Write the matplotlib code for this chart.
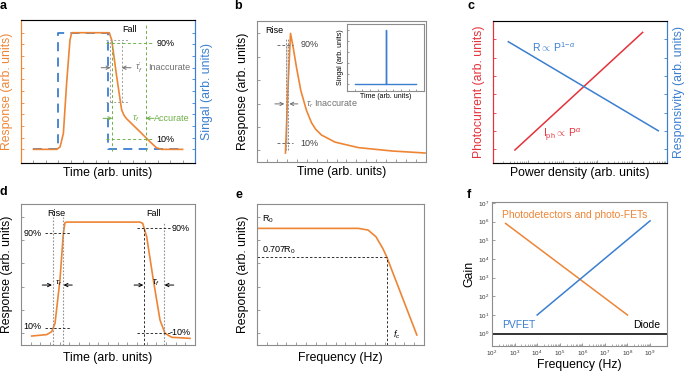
import numpy as np
import matplotlib
matplotlib.use("Agg")
import matplotlib.pyplot as plt
from matplotlib.ticker import NullFormatter

plt.rcParams['font.family'] = ['Liberation Sans', 'DejaVu Sans']
plt.rcParams['mathtext.fontset'] = 'custom'
plt.rcParams['mathtext.rm'] = 'Liberation Sans'
plt.rcParams['mathtext.it'] = 'Liberation Sans:italic'

ORANGE = '#EE8535'
BLUE = '#3B7FD0'
RED = '#E5323C'
GREEN = '#6FB04A'
SPINE = '#8C8C8C'

# ---- panel a: square pulse vs. slow response
a_sig_t = [1, 3, 3, 7, 7, 13]
a_sig_v = [0, 0, 1, 1, 0, 0]
a_t = [1, 2.87, 3.14, 3.41, 3.67, 3.94, 4.08, 7.1, 7.3, 7.7, 8.1, 8.3, 8.5, 9.0, 9.57, 10.38, 10.9, 11.3, 13]
a_v = [0, 0, 0.02, 0.137, 0.566, 0.937, 1.0, 1.0, 0.937, 0.623, 0.337, 0.29, 0.262, 0.21, 0.151, 0.065, 0.014, 0.0, 0.0]

# ---- panel b: pulse response
b_t = [2.86, 3.1, 3.37, 3.6, 3.97, 4.41, 4.98, 5.49, 5.9, 6.5, 7.85, 10.2, 13.6, 16.9]
b_v = [-0.023, 0.5, 1.0, 0.9, 0.71, 0.51, 0.34, 0.235, 0.18, 0.13, 0.07, 0.023, -0.006, -0.023]
b_in_t = [1, 5.0, 5.0, 5.08, 5.08, 9]
b_in_v = [0, 0, 1, 1, 0, 0]

# ---- panel c: power law
c_ph_p = [10**0.63, 10**4.30]
c_ph_v = [-0.04, 6.38]
c_r_p = [10**0.44, 10**4.75]
c_r_v = [5.87, 1.01]

# ---- panel d: rise/fall
d_t = [1.10, 2.66, 3.17, 3.52, 4.03, 4.38, 4.55, 4.72, 12.31, 12.59, 13.0, 13.69, 14.38, 14.9, 15.6, 17.48]
d_v = [-0.023, -0.011, 0.014, 0.086, 0.457, 0.857, 0.949, 0.954, 0.954, 0.943, 0.829, 0.457, 0.114, 0.0, -0.034, -0.043]

# ---- panel e: frequency response
e_f = [0, 10.3, 11.3, 12.1, 12.8, 13.2, 16.27]
e_v = [0.9, 0.9, 0.886, 0.829, 0.729, 0.657, -0.014]
e_cut_v = 0.657
e_cut_f = 13.2

# ---- panel f: gain vs frequency
f_pd_f = [4e2, 1e8]
f_pd_g = [8e5, 1e1]
f_pv_f = [1e4, 1e9]
f_pv_g = [1e1, 1.1e6]
f_diode_g = 1.0
f_xdec = list(range(2, 10))
f_ydec = list(range(0, 8))

fig = plt.figure(figsize=(6.85, 3.72), dpi=100)


def rect(l, t, r, b):
    return [l / 685, 1 - b / 372, (r - l) / 685, (b - t) / 372]


def style(ax, left=SPINE, right=SPINE):
    for s in ['top', 'bottom']:
        ax.spines[s].set_color(SPINE)
    ax.spines['left'].set_color(left)
    ax.spines['right'].set_color(right)
    for s in ax.spines.values():
        s.set_linewidth(0.8)
    ax.tick_params(which='both', direction='in', length=2.5, width=0.6, colors=SPINE,
                   labelleft=False, labelbottom=False)
    ax.tick_params(axis='y', colors=left)


def arrow(ax, x0, x1, y, color):
    # small horizontal arrow pointing from x0 to x1
    ax.annotate('', xy=(x1, y), xytext=(x0, y),
                arrowprops=dict(arrowstyle='->', lw=0.7, color=color,
                                mutation_scale=6, shrinkA=0, shrinkB=0))


def minor_log(lo, hi):
    return [m * 10**d for d in range(lo, hi) for m in range(2, 10)]


LFS = 8.8

# ================= a
ax = fig.add_axes(rect(21, 20, 195, 163))
ax.plot(a_sig_t, a_sig_v, color=BLUE, lw=1.3, ls=(0, (5, 3.5)))
ax.plot(a_t, a_v, color=ORANGE, lw=1.2)
ax.set_xlim(0, 14)
ax.set_ylim(-0.117, 1.109)
ax.set_xticks(range(1, 14))
ax.set_yticks(np.arange(0, 1.01, 0.1))
style(ax, left=ORANGE, right=BLUE)
ax.set_xlabel('Time (arb. units)', fontsize=LFS, labelpad=3)
ax.set_ylabel('Response (arb. units)', fontsize=LFS, color=ORANGE, labelpad=6)
axr = ax.twinx()
axr.set_ylim(-0.117, 1.109)
axr.set_yticks(np.arange(0, 1.01, 0.1))
axr.tick_params(direction='in', length=2.5, width=0.6, colors=BLUE, labelright=False)
axr.spines['right'].set_color(BLUE)
axr.spines['left'].set_color(ORANGE)
axr.set_ylabel('Singal (arb. units)', fontsize=LFS, color=BLUE, labelpad=4)
# gray (inaccurate) guides
ax.hlines([0.94, 0.41], 6.85, 8.6, color='#A0A0A0', ls=(0, (2, 2)), lw=0.7)
ax.vlines([7.2, 8.1], 0.41, 0.94, color='#A0A0A0', ls=(0, (2, 2)), lw=0.7)
# green (accurate) guides
ax.hlines([0.914, 0.086], 6.85, 10.65, color=GREEN, ls=(0, (3, 2.5)), lw=0.7)
ax.vlines(7.35, -0.01, 0.93, color=GREEN, ls=(0, (3, 2.5)), lw=0.7)
ax.vlines(10.03, -0.01, 1.07, color=GREEN, ls=(0, (3, 2.5)), lw=0.7)
ax.text(8.75, 1.03, 'Fall', fontsize=6.5, ha='center', va='center')
ax.text(10.9, 0.91, '90%', fontsize=6.5, va='center')
ax.text(10.85, 0.085, '10%', fontsize=6.5, va='center')
arrow(ax, 6.45, 7.2, 0.70, '#707070')
arrow(ax, 8.85, 8.1, 0.70, '#707070')
ax.text(9.15, 0.70, r'$\tau_f^{\prime}$', fontsize=6.5, color='#707070', va='center')
ax.text(10.2, 0.70, 'Inaccurate', fontsize=6.5, color='#707070', va='center')
arrow(ax, 6.6, 7.35, 0.266, GREEN)
arrow(ax, 10.7, 10.03, 0.266, GREEN)
ax.text(8.9, 0.266, r'$\tau_f$', fontsize=6.5, color=GREEN, va='center')
ax.text(10.72, 0.266, 'Accurate', fontsize=6.5, color=GREEN, va='center')

# ================= b
ax = fig.add_axes(rect(257, 21, 426, 162))
ax.plot(b_t, b_v, color=ORANGE, lw=1.2)
ax.set_xlim(0, 17)
ax.set_ylim(-0.1, 1.106)
ax.set_xticks(range(1, 17))
ax.set_yticks(np.arange(0, 1.01, 0.2))
style(ax)
ax.set_xlabel('Time (arb. units)', fontsize=LFS, labelpad=3)
ax.set_ylabel('Response (arb. units)', fontsize=LFS, labelpad=6)
ax.fill_betweenx([0.061, 0.901], 2.9, 3.13, color='#D9C9BC', alpha=0.6, lw=0)
ax.vlines([2.9, 3.13], 0.0, 0.96, color='#909090', ls=(0, (2, 1.5)), lw=0.7)
ax.hlines([0.901, 0.061], 1.99, 3.67, color='#707070', ls=(0, (3, 2)), lw=0.7)
ax.text(4.4, 0.901, '90%', fontsize=6.5, va='center', color='#404040')
ax.text(4.4, 0.061, '10%', fontsize=6.5, va='center', color='#404040')
ax.text(0.8, 1.025, 'Rise', fontsize=6.5, va='center')
arrow(ax, 1.8, 2.75, 0.397, '#707070')
arrow(ax, 4.1, 3.25, 0.397, '#707070')
ax.text(4.95, 0.397, r'$\tau_r$ Inaccurate', fontsize=6.5, color='#707070', va='center')

axi = fig.add_axes(rect(347, 24, 424, 91))
axi.plot(b_in_t, b_in_v, color=BLUE, lw=1.0)
axi.set_xlim(0, 10)
axi.set_ylim(-0.12, 1.11)
axi.set_xticks(range(1, 10))
axi.set_yticks(np.arange(0, 1.01, 0.2))
style(axi)
axi.tick_params(length=1.5)
axi.set_xlabel('Time (arb. units)', fontsize=5, labelpad=1.5)
axi.set_ylabel('Singal (arb. units)', fontsize=5, labelpad=2)

# ================= c
ax = fig.add_axes(rect(493, 21, 667, 163))
ax.plot(c_ph_p, c_ph_v, color=RED, lw=1.1)
ax.plot(c_r_p, c_r_v, color=BLUE, lw=1.1)
ax.set_xscale('log')
ax.set_xlim(1, 1e5)
ax.set_ylim(-0.75, 7.0)
ax.set_xticks([10**d for d in range(0, 6)])
ax.set_xticks(minor_log(0, 5), minor=True)
ax.xaxis.set_minor_formatter(NullFormatter())
ax.set_yticks(range(0, 7))
style(ax, left=RED, right=BLUE)
ax.tick_params(axis='x', which='minor', direction='in', length=1.5, width=0.5, colors=SPINE)
ax.set_xlabel('Power density (arb. units)', fontsize=LFS, labelpad=3)
ax.set_ylabel('Photocurrent (arb. units)', fontsize=LFS, color=RED, labelpad=6)
axr = ax.twinx()
axr.set_ylim(-0.75, 7.0)
axr.set_yticks(range(0, 7))
axr.tick_params(direction='in', length=2.5, width=0.6, colors=BLUE, labelright=False)
axr.spines['right'].set_color(BLUE)
axr.spines['left'].set_color(RED)
axr.set_ylabel('Responsivity (arb. units)', fontsize=LFS, color=BLUE, labelpad=4)
ax.text(10**1.13, 5.55, r'R$\propto$ P$^{1\mathrm{-}\alpha}$', fontsize=7.5, color=BLUE, va='center')
ax.text(10**1.45, 0.78, r'I$_{\mathrm{ph}}$$\propto$ P$^{\alpha}$', fontsize=7.5, color=RED, va='center')

# ================= d
ax = fig.add_axes(rect(21, 204, 195, 345))
ax.plot(d_t, d_v, color=ORANGE, lw=1.2)
ax.set_xlim(0, 18)
ax.set_ylim(-0.1, 1.109)
ax.set_xticks(range(1, 18))
ax.set_yticks(np.arange(0, 1.01, 0.2))
style(ax)
ax.set_xlabel('Time (arb. units)', fontsize=LFS, labelpad=5)
ax.set_ylabel('Response (arb. units)', fontsize=LFS, labelpad=6)
dot = dict(color='#909090', ls=(0, (1.5, 1.5)), lw=0.8)
dash = dict(color='#303030', ls=(0, (2.5, 2)), lw=0.7)
ax.vlines([3.28, 4.31], -0.1, 1.0, **dot)
ax.vlines(14.79, -0.1, 0.95, **dot)
ax.vlines(12.72, -0.1, 0.9, **dash)
ax.hlines([0.857, 0.043], 2.48, 5.07, **dash)
ax.hlines([0.9, 0.0], 11.97, 15.4, **dash)
ax.text(0.25, 0.857, '90%', fontsize=6.5, va='center')
ax.text(0.25, 0.055, '10%', fontsize=6.5, va='center')
ax.text(15.6, 0.9, '90%', fontsize=6.5, va='center')
ax.text(15.4, 0.005, '-10%', fontsize=6.5, va='center')
ax.text(3.62, 1.03, 'Rise', fontsize=6.5, ha='center', va='center')
ax.text(13.69, 1.03, 'Fall', fontsize=6.5, ha='center', va='center')
arrow(ax, 2.2, 3.2, 0.414, 'k')
arrow(ax, 5.3, 4.4, 0.414, 'k')
ax.text(3.55, 0.43, r'$\tau_r$', fontsize=6, va='center')
arrow(ax, 11.7, 12.65, 0.414, 'k')
arrow(ax, 15.8, 14.85, 0.414, 'k')
ax.text(13.5, 0.43, r'$\tau_f$', fontsize=6.5, va='center')

# ================= e
ax = fig.add_axes(rect(257, 204, 424, 345))
ax.plot(e_f, e_v, color=ORANGE, lw=1.2)
ax.set_xlim(0, 17)
ax.set_ylim(-0.1, 1.109)
ax.set_xticks(range(1, 17))
ax.set_yticks(np.arange(0, 1.01, 0.2))
style(ax)
ax.set_xlabel('Frequency (Hz)', fontsize=LFS, labelpad=5)
ax.set_ylabel('Response (arb. units)', fontsize=LFS, labelpad=6)
ax.hlines(e_cut_v, 0, e_cut_f, **dash)
ax.vlines(e_cut_f, -0.1, e_cut_v, **dash)
ax.text(0.55, 0.98, r'R$_0$', fontsize=6.5, va='center')
ax.text(0.55, 0.71, r'0.707R$_0$', fontsize=6.5, va='center')
ax.text(13.8, -0.01, r'$f_c$', fontsize=6.5, va='center')

# ================= f
ax = fig.add_axes(rect(492, 202, 667, 346))
ax.plot(f_pd_f, f_pd_g, color=ORANGE, lw=1.1)
ax.plot(f_pv_f, f_pv_g, color=BLUE, lw=1.1)
ax.axhline(f_diode_g, color='#333333', lw=1.4)
ax.set_xscale('log')
ax.set_yscale('log')
ax.set_xlim(1e2, 10**9.75)
ax.set_ylim(10**-0.66, 10**7.05)
ax.set_xticks([10.0**d for d in f_xdec])
ax.set_xticklabels([r'10$^{%d}$' % d for d in f_xdec])
ax.set_xticks(minor_log(2, 9), minor=True)
ax.xaxis.set_minor_formatter(NullFormatter())
ax.set_yticks([10.0**d for d in f_ydec])
ax.set_yticklabels([r'10$^{%d}$' % d for d in f_ydec])
ax.set_yticks([], minor=True)
for s in ax.spines.values():
    s.set_color(SPINE)
    s.set_linewidth(0.8)
ax.tick_params(direction='in', length=2.5, width=0.6, colors=SPINE, labelsize=4.5,
               labelcolor='#333333', pad=2)
ax.tick_params(which='minor', direction='in', length=1.5, width=0.5, colors=SPINE)
ax.set_xlabel('Frequency (Hz)', fontsize=LFS, labelpad=0.5)
ax.set_ylabel('Gain', fontsize=LFS, labelpad=2)
ax.text(10**2.45, 10**6.35, 'Photodetectors and photo-FETs', fontsize=7.5, color=ORANGE, va='center')
ax.text(10**2.43, 10**0.48, 'PVFET', fontsize=7.5, color=BLUE, va='center')
ax.text(10**9.43, 10**0.48, 'Diode', fontsize=7.5, color='k', va='center', ha='right')

# panel letters
for lab, x, y in [('a', 0, 6), ('b', 234, 6), ('c', 467, 6),
                  ('d', 0, 192), ('e', 235, 195), ('f', 467, 195)]:
    fig.text(x / 685, 1 - y / 372, lab, fontsize=9, fontweight='bold', va='center')

fig.savefig('out.png', dpi=100)
